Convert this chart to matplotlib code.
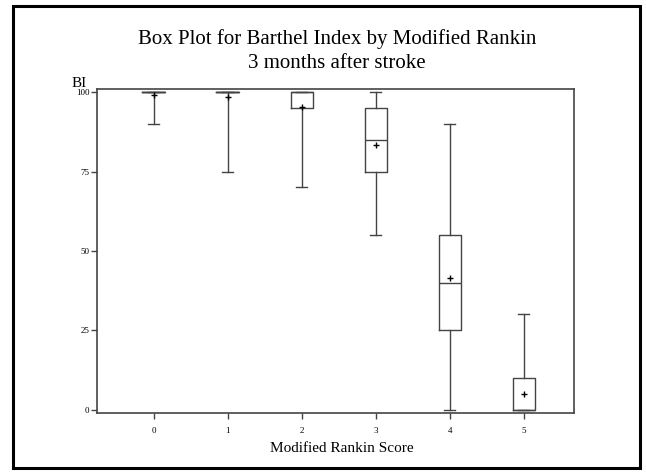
import matplotlib
matplotlib.use('Agg')
import matplotlib.pyplot as plt
from matplotlib.patches import Rectangle

plt.rcParams['font.family'] = ['Liberation Serif', 'DejaVu Serif']

# Modified Rankin score groups
scores = ['0', '1', '2', '3', '4', '5']
# 箱线图统计量
whisker_low = [90, 75, 70, 55, 0, 0]
q1 = [100, 100, 95, 75, 25, 0]
median = [100, 100, 100, 85, 40, 0]
q3 = [100, 100, 100, 95, 55, 10]
whisker_high = [100, 100, 100, 100, 90, 30]
means = [99.1, 98.4, 95.2, 83.3, 41.4, 5.0]

stats = []
for i, s in enumerate(scores):
    stats.append({
        'label': s,
        'whislo': whisker_low[i],
        'q1': q1[i],
        'med': median[i],
        'q3': q3[i],
        'whishi': whisker_high[i],
        'mean': means[i],
    })

fig = plt.figure(figsize=(6.46, 4.75), dpi=100)
ax = fig.add_axes([0.1502, 0.1305, 0.7383, 0.6821])

line_c = '#444444'
ax.bxp(stats, positions=range(len(scores)), widths=0.3, showmeans=True,
       showfliers=False,
       boxprops=dict(color=line_c, linewidth=1.0),
       whiskerprops=dict(color=line_c, linewidth=1.0),
       capprops=dict(color=line_c, linewidth=1.0),
       medianprops=dict(color=line_c, linewidth=1.0),
       meanprops=dict(marker='+', markeredgecolor='black', markersize=4.5,
                      markeredgewidth=1.0))

ax.set_xlim(-0.764, 5.68)
ax.set_ylim(-1.1, 101.0)
ax.set_yticks([0, 25, 50, 75, 100])
ax.set_xticks(range(len(scores)))
ax.set_xticklabels(scores)
ax.tick_params(labelsize=6.5, length=4, width=1.0, color=line_c)
ax.tick_params(axis='y', pad=1.5)
ax.tick_params(axis='x', pad=6)
for sp in ax.spines.values():
    sp.set_color(line_c)
    sp.set_linewidth(1.2)

ax.set_xlabel('Modified Rankin Score', fontsize=11)
ax.xaxis.set_label_coords(0.5126, -0.091)

fig.text(0.522, 0.908, 'Box Plot for Barthel Index by Modified Rankin',
         ha='center', va='baseline', fontsize=15)
fig.text(0.521, 0.857, '3 months after stroke',
         ha='center', va='baseline', fontsize=15)
fig.text(0.110, 0.817, 'BI', ha='left', va='baseline', fontsize=11)

# outer frame
fig.patches.append(Rectangle((13 / 646, 1 - 468 / 475), 627 / 646, 462 / 475,
                             transform=fig.transFigure, fill=False,
                             edgecolor='black', linewidth=2.2))

fig.savefig('out.png', dpi=100)
